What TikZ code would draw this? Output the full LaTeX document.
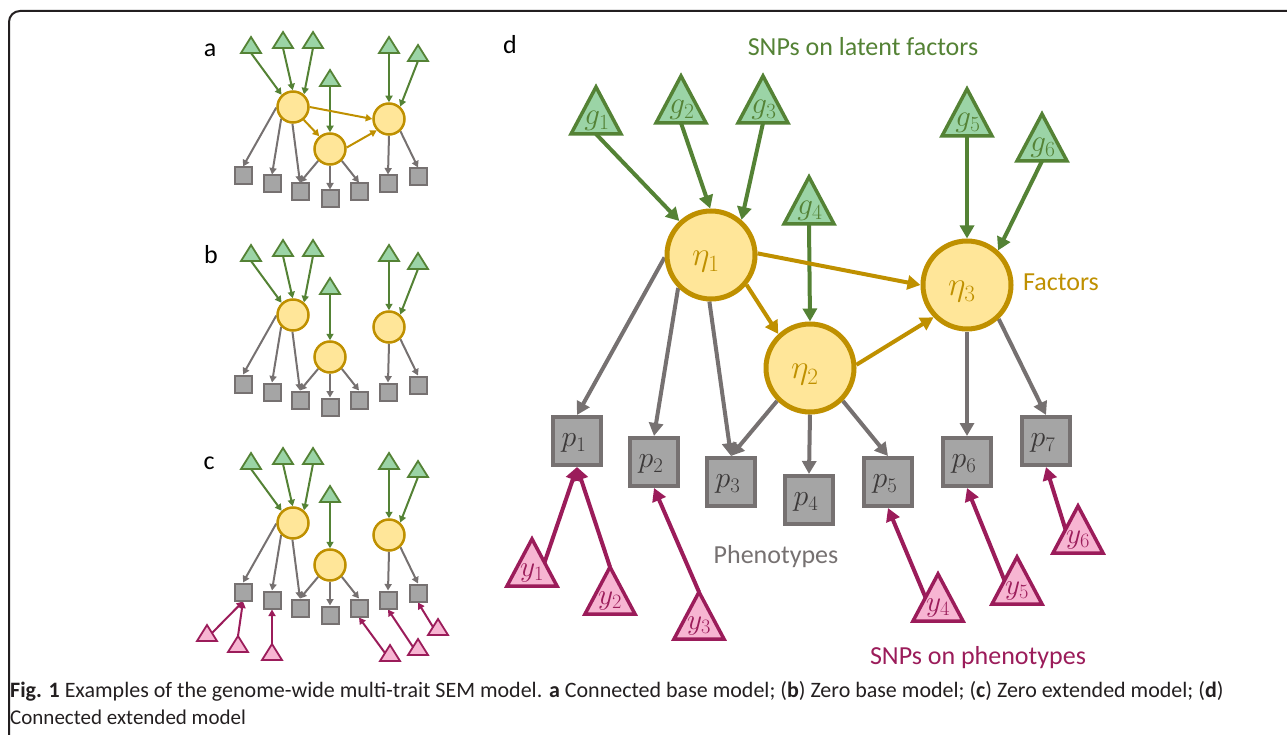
\documentclass[tikz,border=0pt]{standalone}
\usepackage{graphicx}
\usepackage{fontspec}
\newfontfamily\lab{Carlito}
\usetikzlibrary{arrows.meta}
\definecolor{gline}{HTML}{548235}
\definecolor{gfill}{HTML}{9BD4A6}
\definecolor{oline}{HTML}{BF9000}
\definecolor{ofill}{HTML}{FFE699}
\definecolor{kline}{HTML}{767171}
\definecolor{kfill}{HTML}{A5A5A5}
\definecolor{ktext}{HTML}{3B3838}
\definecolor{pline}{HTML}{9B1C5A}
\definecolor{pfill}{HTML}{F7B5D2}
\definecolor{captc}{HTML}{231F20}
\pgfdeclarelayer{bg}
\pgfsetlayers{bg,main}
\newcommand\fs[1]{\fontsize{#1}{#1}\selectfont}
\newcommand\ml[2]{\scalebox{#1}{$#2$}}
% triangle: name, cx, cy, style, half width, apex up, base down
\newcommand\tri[7]{%
  \draw[#4] ({#2},{#3-#6}) -- ({#2+#5},{#3+#7}) -- ({#2-#5},{#3+#7}) -- cycle;
  \coordinate (#1) at (#2,#3);
  \coordinate (#1-t) at ({#2},{#3-#6});
  \coordinate (#1-b) at ({#2},{#3+#7});
  \coordinate (#1-l) at ({#2-#5/2},{#3+(#7-#6)/2});
  \coordinate (#1-r) at ({#2+#5/2},{#3+(#7-#6)/2});
}
\newcommand\Tri[4]{\tri{#1}{#2}{#3}{#4}{25}{26}{21}}
\newcommand\tTri[4]{\tri{#1}{#2}{#3}{#4}{10}{9}{7}}
\tikzset{
  gtri/.style={draw=gline, fill=gfill, line width=3.5pt},
  ptri/.style={draw=pline, fill=pfill, line width=3.5pt},
  sgtri/.style={draw=gline, fill=gfill, line width=1.8pt},
  sptri/.style={draw=pline, fill=pfill, line width=1.8pt},
  circ/.style={circle, draw=oline, fill=ofill, line width=5pt, minimum size=88pt, inner sep=0pt},
  sq/.style={rectangle, draw=kline, fill=kfill, line width=4pt, minimum size=48pt, inner sep=0pt},
  scirc/.style={circle, draw=oline, fill=ofill, line width=2.5pt, minimum size=31pt, inner sep=0pt},
  ssq/.style={rectangle, draw=kline, fill=kfill, line width=2pt, minimum size=17pt, inner sep=0pt},
  bigtip/.style={-{Triangle[length=13pt,width=14pt]}},
  smalltip/.style={-{Triangle[length=6.5pt,width=7pt]}},
  ga/.style={draw=gline, line width=4pt, bigtip},
  oa/.style={draw=oline, line width=4pt, bigtip},
  ka/.style={draw=kline, line width=4pt, bigtip},
  pa/.style={draw=pline, line width=4pt, bigtip},
  sga/.style={draw=gline, line width=2pt, smalltip},
  soa/.style={draw=oline, line width=2pt, smalltip},
  ska/.style={draw=kline, line width=2pt, smalltip},
  spa/.style={draw=pline, line width=2pt, smalltip},
  glab/.style={text=gline, font=\fs{24}, inner sep=0pt},
  olab/.style={text=oline, font=\fs{24}, inner sep=0pt},
  klab/.style={text=ktext, font=\fs{24}, inner sep=0pt},
  plab/.style={text=pline, font=\fs{24}, inner sep=0pt},
  panel/.style={font=\lab\fs{26}, text=black, inner sep=0pt},
  tlab/.style={font=\lab\fs{26}, inner sep=0pt},
}
\newcommand\smallpanel{%
  \tTri{t1}{251}{46}{sgtri}
  \tTri{t2}{283}{41}{sgtri}
  \tTri{t3}{313}{41}{sgtri}
  \tTri{t4}{330}{79}{sgtri}
  \tTri{t5}{389}{46}{sgtri}
  \tTri{t6}{418}{54}{sgtri}
  \node[scirc] (c1) at (293,107) {};
  \node[scirc] (c2) at (330,149) {};
  \node[scirc] (c3) at (389,119) {};
  \node[ssq] (s1) at (243,176) {};
  \node[ssq] (s2) at (272,184) {};
  \node[ssq] (s3) at (300,192) {};
  \node[ssq] (s4) at (330,199) {};
  \node[ssq] (s5) at (359,192) {};
  \node[ssq] (s6) at (388,184) {};
  \node[ssq] (s7) at (418,177) {};
  \begin{pgfonlayer}{bg}
    \draw[sga] (t1-b) -- (c1.133);
    \draw[sga] (t2-b) -- (c1.91);
    \draw[sga] (t3-b) -- (c1.49);
    \draw[sga] (t4-b) -- (c2.90);
    \draw[sga] (t5-b) -- (c3.90);
    \draw[sga] (t6-b) -- (c3.48);
    \draw[ska] (c1.182) -- (s1.north);
    \draw[ska] (c1.225) -- (s2.north);
    \draw[ska] (c1.268) -- (s3.north);
    \draw[ska] (c2.225) -- (s3.north);
    \draw[ska] (c2.270) -- (s4.north);
    \draw[ska] (c2.-45) -- (s5.north);
    \draw[ska] (c3.270) -- (s6.north);
    \draw[ska] (c3.-47) -- (s7.north);
  \end{pgfonlayer}
}
\begin{document}
\begin{tikzpicture}[x=1pt, y=-1pt]
\useasboundingbox (0,0) rectangle (1287,735);
\draw[line width=2pt, draw=captc, rounded corners=11pt] (9,745) -- (9,11) -- (1295,11);

% ---------- panel a ----------
\node[panel] (la) at (210,50) {a};
\begin{scope}[name prefix=a-]
  \smallpanel
  \begin{pgfonlayer}{bg}
    \draw[soa] (c1.0) -- (c3.180);
    \draw[soa] (c1.-50) -- (c2.130);
    \draw[soa] (c2.5) -- (c3.223);
  \end{pgfonlayer}
\end{scope}

% ---------- panel b ----------
\node[panel] (lb) at (211,255) {b};
\begin{scope}[shift={(0,208)}, name prefix=b-]
  \smallpanel
\end{scope}

% ---------- panel c ----------
\node[panel] (lc) at (209,463) {c};
\begin{scope}[shift={(0,416)}, name prefix=c-]
  \smallpanel
  \tTri{u1}{207}{218}{sptri}
  \tTri{u2}{238}{229}{sptri}
  \tTri{u3}{272}{237}{sptri}
  \tTri{u4}{390}{238}{sptri}
  \tTri{u5}{418}{232}{sptri}
  \tTri{u6}{438}{212}{sptri}
  \begin{pgfonlayer}{bg}
    \draw[spa] (u1-r) -- (s1.south);
    \draw[spa] (u2-t) -- (s1.south);
    \draw[spa] (u3-t) -- (s2.south);
    \draw[spa] (u4-l) -- (s5.south);
    \draw[spa] (u5-l) -- (s6.south);
    \draw[spa] (u6-l) -- (s7.south);
  \end{pgfonlayer}
\end{scope}

% ---------- panel d ----------
\node[panel] (ld) at (510,45) {d};
\node[tlab, text=gline] (snpl) at (863,47) {SNPs on latent factors};
\node[tlab, text=oline] (fact) at (1061,282) {Factors};
\node[tlab, text=kline] (phen) at (776,557) {Phenotypes};
\node[tlab, text=pline] (snpp) at (978,658) {SNPs on phenotypes};

\Tri{g1}{596}{113}{gtri}
\Tri{g2}{681}{102}{gtri}
\Tri{g3}{763}{102}{gtri}
\Tri{g4}{809}{203}{gtri}
\Tri{g5}{967}{115}{gtri}
\Tri{g6}{1042}{140}{gtri}
\node[glab] (g1l) at (597,121) {\ml{1.25}{g_1}};
\node[glab] (g2l) at (682,110) {\ml{1.25}{g_2}};
\node[glab] (g3l) at (764,110) {\ml{1.25}{g_3}};
\node[glab] (g4l) at (810,211) {\ml{1.25}{g_4}};
\node[glab] (g5l) at (968,123) {\ml{1.25}{g_5}};
\node[glab] (g6l) at (1043,148) {\ml{1.25}{g_6}};

\node[circ] (eta1) at (711,255) {};
\node[circ] (eta2) at (810,368) {};
\node[circ] (eta3) at (967,285) {};
\node[olab] (e1l) at (706,262) {\ml{1.35}{\eta_1}};
\node[olab] (e2l) at (805,375) {\ml{1.35}{\eta_2}};
\node[olab] (e3l) at (962,292) {\ml{1.35}{\eta_3}};

\node[sq] (p1) at (577,441) {};
\node[sq] (p2) at (654,462) {};
\node[sq] (p3) at (731,482) {};
\node[sq] (p4) at (809,500) {};
\node[sq] (p5) at (888,482) {};
\node[sq] (p6) at (967,462) {};
\node[sq] (p7) at (1046,441) {};
\foreach \i in {1,...,7} {\node[klab] (p\i l) at ([xshift=-3pt,yshift=-2pt]p\i) {\ml{1.2}{p_{\i}}};}

\Tri{y1}{532}{565}{ptri}
\Tri{y2}{610}{593}{ptri}
\Tri{y3}{699}{618}{ptri}
\Tri{y4}{938}{600}{ptri}
\Tri{y5}{1017}{583}{ptri}
\Tri{y6}{1078}{532}{ptri}
\node[plab] (y1l) at (532,573) {\ml{1.18}{y_1}};
\node[plab] (y2l) at (610,601) {\ml{1.18}{y_2}};
\node[plab] (y3l) at (699,626) {\ml{1.18}{y_3}};
\node[plab] (y4l) at (938,608) {\ml{1.18}{y_4}};
\node[plab] (y5l) at (1017,591) {\ml{1.18}{y_5}};
\node[plab] (y6l) at (1078,540) {\ml{1.18}{y_6}};

\begin{pgfonlayer}{bg}
  \draw[ga] (g1-b) -- (eta1.133);
  \draw[ga] (g2-b) -- (eta1.91);
  \draw[ga] (g3-b) -- (eta1.49);
  \draw[ga] (g4-b) -- (eta2.90);
  \draw[ga] (g5-b) -- (eta3.90);
  \draw[ga] (g6-b) -- (eta3.48);
  \draw[oa] (eta1.2) -- (eta3.180);
  \draw[oa] (eta1.-40) -- (eta2.133);
  \draw[oa] (eta2.4) -- (eta3.224);
  \draw[ka] (eta1.183) -- (p1.north);
  \draw[ka] (eta1.225) -- (p2.north);
  \draw[ka] (eta1.268) -- (p3.north);
  \draw[ka] (eta2.225) -- (p3.north);
  \draw[ka] (eta2.270) -- (p4.north);
  \draw[ka] (eta2.-45) -- (p5.north);
  \draw[ka] (eta3.270) -- (p6.north);
  \draw[ka] (eta3.-47) -- (p7.north);
  \draw[pa] (y1-r) -- (p1.south);
  \draw[pa] (y2-t) -- (p1.south);
  \draw[pa] (y3-t) -- (p2.south);
  \draw[pa] (y4-l) -- (p5.south);
  \draw[pa] (y5-l) -- (p6.south);
  \draw[pa] (y6-l) -- (p7.south);
\end{pgfonlayer}

% ---------- caption ----------
\node[anchor=base west, font=\lab\fs{22}, text=captc, inner sep=0pt] (cap1) at (10,697)
  {\textbf{Fig. 1} Examples of the genome-wide multi-trait SEM model. \textbf{a} Connected base model; (\textbf{b}) Zero base model; (\textbf{c}) Zero extended model; (\textbf{d})};
\node[anchor=base west, font=\lab\fs{21}, text=captc, inner sep=0pt] (cap2) at (10,724)
  {Connected extended model};
\end{tikzpicture}
\end{document}
